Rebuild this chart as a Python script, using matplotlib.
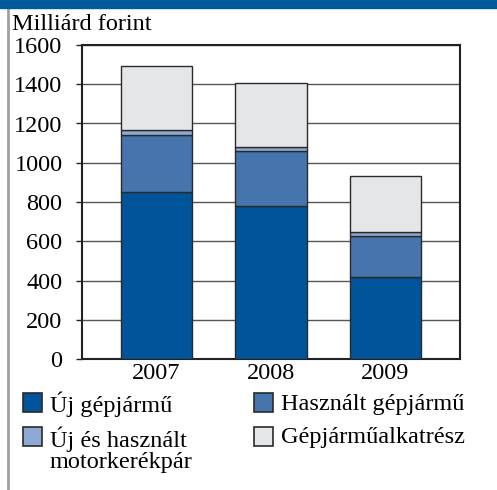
import matplotlib
matplotlib.use("Agg")
import matplotlib.pyplot as plt
from matplotlib.patches import Rectangle
from matplotlib.lines import Line2D
import numpy as np

years = ["2007", "2008", "2009"]
series_names = ["Új gépjármű", "Használt gépjármű",
                "Új és használt\nmotorkerékpár", "Gépjárműalkatrész"]
uj_gepjarmu = [850, 780, 420]
hasznalt_gepjarmu = [290, 280, 205]
motorkerekpar = [25, 20, 20]
alkatresz = [330, 325, 290]
series_values = [uj_gepjarmu, hasznalt_gepjarmu, motorkerekpar, alkatresz]
colors = ["#00559a", "#4674ad", "#8ea9d4", "#e5e6e8"]
y_ticks = [0, 200, 400, 600, 800, 1000, 1200, 1400, 1600]

W, H = 497, 490
FS = 17.5
plt.rcParams["font.family"] = ["Liberation Serif", "DejaVu Serif"]
fig = plt.figure(figsize=(W / 100, H / 100), dpi=100)

def px(x0, y0, x1, y1):
    return [x0 / W, 1 - y1 / H, (x1 - x0) / W, (y1 - y0) / H]

ax = fig.add_axes(px(82, 45, 460, 359))
x = np.arange(len(years))
bottom = np.zeros(len(years))
for vals, col in zip(series_values, colors):
    ax.bar(x, vals, width=0.625, bottom=bottom, color=col,
           edgecolor="#2a2a2a", linewidth=1.0, zorder=3)
    bottom += np.array(vals)

ax.set_xlim(-0.65, 2.65)
ax.set_ylim(0, 1600)
ax.set_yticks(y_ticks)
ax.set_yticklabels([str(t) for t in y_ticks], fontsize=FS)
ax.set_xticks(x)
ax.set_xticklabels(years, fontsize=FS)
ax.tick_params(axis="x", length=0, pad=3)
ax.tick_params(axis="y", length=4, width=1, direction="out", pad=10, color="#222")
ax.yaxis.grid(True, color="#555555", linewidth=1.0, zorder=0)
for s in ax.spines.values():
    s.set_color("#222222")
    s.set_linewidth(1.5)

# header bar and left rule
fig.add_artist(Rectangle((0, 1 - 8 / H), 1, 8 / H, transform=fig.transFigure,
                         color="#005a9c", zorder=5))
fig.add_artist(Line2D([8 / W, 8 / W], [0, 1 - 8 / H], transform=fig.transFigure,
                      color="#a0a0a0", linewidth=2))

fig.text(12 / W, 1 - 25 / H, "Milliárd forint", fontsize=FS, va="center", ha="left")

# legend
positions = [(23, 393), (254, 393), (23, 427), (254, 427)]
for (lx, ly), name, col in zip(positions, series_names, colors):
    fig.add_artist(Rectangle((lx / W, 1 - (ly + 19) / H), 19 / W, 19 / H,
                             transform=fig.transFigure, facecolor=col,
                             edgecolor="#2a2a2a", linewidth=1.2))
    if "\n" in name:
        fig.text((lx + 27) / W, 1 - (ly - 1) / H, name, fontsize=FS,
                 va="top", ha="left", linespacing=1.02)
    else:
        fig.text((lx + 27) / W, 1 - (ly + 11) / H, name, fontsize=FS,
                 va="center", ha="left")

fig.savefig("out.png", dpi=100)
